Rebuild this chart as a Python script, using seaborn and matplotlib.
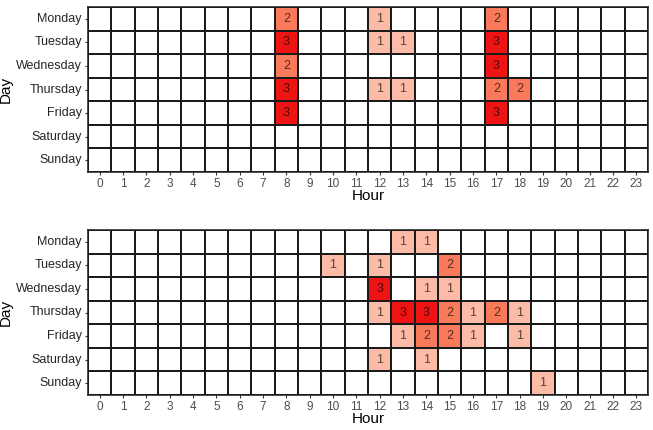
import numpy as np
import pandas as pd
import matplotlib
matplotlib.use("Agg")
import matplotlib.pyplot as plt
from matplotlib.colors import ListedColormap
import seaborn as sns

days = ["Monday", "Tuesday", "Wednesday", "Thursday", "Friday", "Saturday", "Sunday"]
hours = list(range(24))

# Top panel: non-zero cells
top_day = ["Monday", "Monday", "Monday",
           "Tuesday", "Tuesday", "Tuesday", "Tuesday",
           "Wednesday", "Wednesday",
           "Thursday", "Thursday", "Thursday", "Thursday", "Thursday",
           "Friday", "Friday"]
top_hour = [8, 12, 17,
            8, 12, 13, 17,
            8, 17,
            8, 12, 13, 17, 18,
            8, 17]
top_count = [2, 1, 2,
             3, 1, 1, 3,
             2, 3,
             3, 1, 1, 2, 2,
             3, 3]

# Bottom panel: non-zero cells
bot_day = ["Monday", "Monday",
           "Tuesday", "Tuesday", "Tuesday",
           "Wednesday", "Wednesday", "Wednesday",
           "Thursday", "Thursday", "Thursday", "Thursday", "Thursday", "Thursday", "Thursday",
           "Friday", "Friday", "Friday", "Friday", "Friday",
           "Saturday", "Saturday",
           "Sunday"]
bot_hour = [13, 14,
            10, 12, 15,
            12, 14, 15,
            12, 13, 14, 15, 16, 17, 18,
            13, 14, 15, 16, 18,
            12, 14,
            19]
bot_count = [1, 1,
             1, 1, 2,
             3, 1, 1,
             1, 3, 3, 2, 1, 2, 1,
             1, 2, 2, 1, 1,
             1, 1,
             1]

fill_colors = ["#FFFFFF", "#FCBBA6", "#F9795B", "#EE1414"]
cmap = ListedColormap(fill_colors)


def build(day, hour, count):
    df = pd.DataFrame({"Day": day, "Hour": hour, "n": count})
    tab = df.pivot_table(index="Day", columns="Hour", values="n", aggfunc="sum")
    tab = tab.reindex(index=days, columns=hours).fillna(0).astype(int)
    return tab


tables = [build(top_day, top_hour, top_count), build(bot_day, bot_hour, bot_count)]

sns.set_theme(style="white")
plt.rcParams["font.family"] = ["Liberation Sans", "DejaVu Sans"]

fig = plt.figure(figsize=(6.53, 4.30), dpi=100)
W, H = 653, 430
positions = [(88, 7, 648, 172), (88, 230, 648, 395)]

for tab, (x0, y0, x1, y1) in zip(tables, positions):
    ax = fig.add_axes([x0 / W, 1 - y1 / H, (x1 - x0) / W, (y1 - y0) / H])
    annot = tab.astype(str).where(tab > 0, "")
    sns.heatmap(tab, ax=ax, cmap=cmap, vmin=-0.5, vmax=3.5, cbar=False,
                annot=annot.values, fmt="", linewidths=1.1, linecolor="#1a1a1a",
                annot_kws={"fontsize": 9, "color": "black", "alpha": 0.65})
    for sp in ax.spines.values():
        sp.set_visible(True)
        sp.set_color("#1a1a1a")
        sp.set_linewidth(1.1)
    ax.set_xticks(np.arange(24) + 0.5)
    ax.set_xticklabels([str(h) for h in hours], rotation=0, fontsize=8.5, color="#4d4d4d")
    ax.set_yticks(np.arange(7) + 0.5)
    ax.set_yticklabels(days, rotation=0, fontsize=9, color="#262626")
    ax.tick_params(axis="both", length=2.5, width=0.8, color="#333333", pad=2,
                   bottom=True, left=True)
    ax.set_xlabel("Hour", fontsize=11, labelpad=-1, color="black")
    ax.set_ylabel("Day", fontsize=11, labelpad=2, color="black")

fig.savefig("out.png", dpi=100)
